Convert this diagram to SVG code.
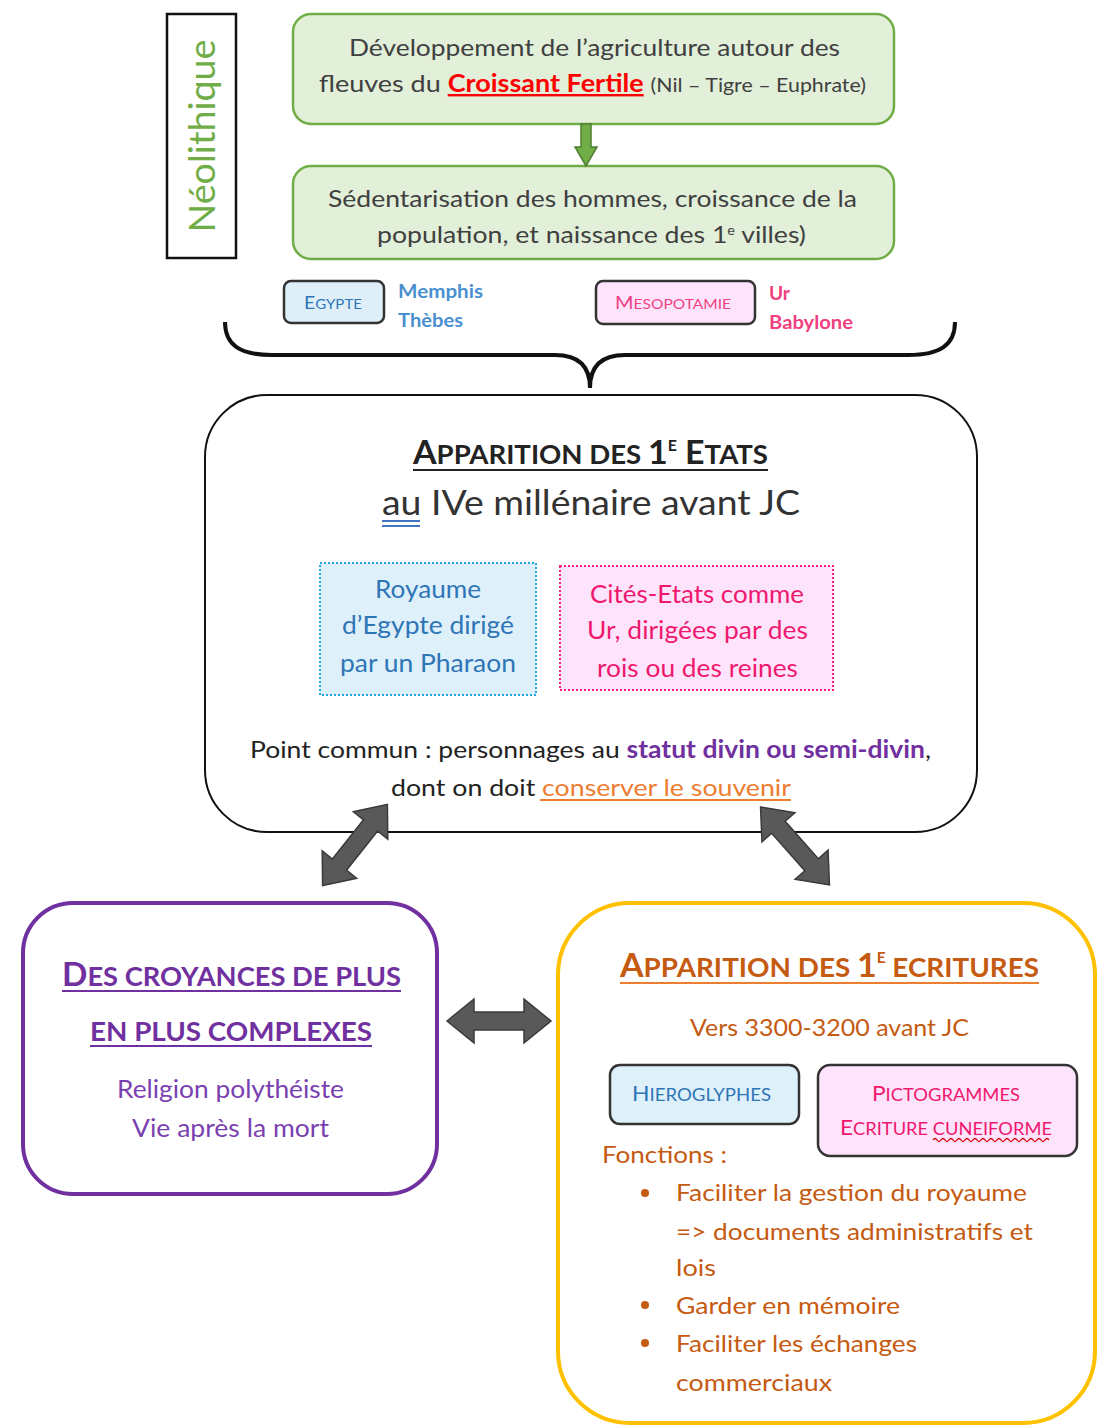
<svg xmlns="http://www.w3.org/2000/svg" width="1097" height="1425" viewBox="0 0 1097 1425">
<style>
text{font-family:Lato,"Open Sans","Liberation Sans",sans-serif;}
.c{text-anchor:middle;}
.g{fill:#404040;font-size:24px;}
.greenbox{fill:#E2EFD9;stroke:#70AD47;stroke-width:2.5;}
.tag{stroke:#333;stroke-width:2.5;}
.arr{fill:#595959;stroke:#3a3a3a;stroke-width:1.5;}
</style>
<defs>
<polygon id="dbl" points="-52,0 -25,-22 -25,-9 25,-9 25,-22 52,0 25,22 25,9 -25,9 -25,22"/>
</defs>

<g id="neolithique">
<rect x="167" y="14" width="69" height="244" fill="#fff" stroke="#111" stroke-width="2.5"/>
<text transform="translate(201,136) rotate(-90)" class="c" dominant-baseline="central" font-size="36" fill="#70AD47" textLength="193" lengthAdjust="spacingAndGlyphs">Néolithique</text>
</g>

<g id="agriculture">
<rect class="greenbox" x="293" y="14" width="601" height="110" rx="18"/>
<text class="g" x="349" y="56" textLength="491" lengthAdjust="spacingAndGlyphs">Développement de l’agriculture autour des</text>
<text class="g" x="319" y="92" textLength="547" lengthAdjust="spacingAndGlyphs">fleuves du <tspan fill="#FF0000" font-weight="bold" text-decoration="underline">Croissant Fertile</tspan> <tspan font-size="19">(Nil – Tigre – Euphrate)</tspan></text>
</g>

<g id="sedentarisation">
<rect class="greenbox" x="293" y="166" width="601" height="93" rx="18"/>
<text class="g" x="328" y="207" textLength="529" lengthAdjust="spacingAndGlyphs">Sédentarisation des hommes, croissance de la</text>
<text class="g" x="377" y="243" textLength="429" lengthAdjust="spacingAndGlyphs">population, et naissance des 1<tspan font-size="13" baseline-shift="super">e</tspan> villes)</text>
</g>

<g id="egypte">
<rect class="tag" x="284" y="281" width="100" height="42" rx="7" fill="#DEEFF9"/>
<text x="304" y="309" fill="#2E75B6" textLength="58" lengthAdjust="spacingAndGlyphs"><tspan font-size="18">E</tspan><tspan font-size="14">GYPTE</tspan></text>
<text x="398" y="298" font-size="19" font-weight="bold" fill="#4A90D0" textLength="85" lengthAdjust="spacingAndGlyphs">Memphis</text>
<text x="398" y="327" font-size="19" font-weight="bold" fill="#4A90D0" textLength="65" lengthAdjust="spacingAndGlyphs">Thèbes</text>
</g>

<g id="mesopotamie">
<rect class="tag" x="596" y="281" width="159" height="43" rx="7" fill="#FDE4FC"/>
<text x="615" y="309" fill="#F0407F" textLength="116" lengthAdjust="spacingAndGlyphs"><tspan font-size="18">M</tspan><tspan font-size="14">ESOPOTAMIE</tspan></text>
<text x="769" y="300" font-size="19" font-weight="bold" fill="#F0407F" textLength="21" lengthAdjust="spacingAndGlyphs">Ur</text>
<text x="769" y="329" font-size="19" font-weight="bold" fill="#F0407F" textLength="84" lengthAdjust="spacingAndGlyphs">Babylone</text>
</g>

<g id="etats">
<rect x="205" y="395" width="772" height="437" rx="62" fill="#fff" stroke="#111" stroke-width="2"/>
<text x="413" y="464" font-weight="bold" fill="#222" textLength="355" lengthAdjust="spacingAndGlyphs"><tspan font-size="32">A</tspan><tspan font-size="26">PPARITION DES </tspan><tspan font-size="32">1</tspan><tspan font-size="15" dy="-13">E</tspan><tspan font-size="32" dy="13"> E</tspan><tspan font-size="26">TATS</tspan></text>
<line x1="413" y1="470" x2="768" y2="470" stroke="#222" stroke-width="2"/>
<text x="382" y="515" font-size="34" fill="#333" textLength="418" lengthAdjust="spacingAndGlyphs">au IVe millénaire avant JC</text>
<line x1="382" y1="521" x2="420" y2="521" stroke="#4472C4" stroke-width="2"/>
<line x1="382" y1="526" x2="420" y2="526" stroke="#4472C4" stroke-width="2"/>
<rect x="320" y="563" width="216" height="132" fill="#DEF0FA" stroke="#1FA8E8" stroke-width="2" stroke-dasharray="2,2"/>
<text x="375" y="598" font-size="25" fill="#2E75B6" textLength="106" lengthAdjust="spacingAndGlyphs">Royaume</text>
<text x="342" y="634" font-size="25" fill="#2E75B6" textLength="172" lengthAdjust="spacingAndGlyphs">d’Egypte dirigé</text>
<text x="340" y="672" font-size="25" fill="#2E75B6" textLength="176" lengthAdjust="spacingAndGlyphs">par un Pharaon</text>
<rect x="560" y="566" width="273" height="124" fill="#FDE4FC" stroke="#FF2080" stroke-width="2" stroke-dasharray="2,2"/>
<text x="590" y="603" font-size="25" fill="#F0186E" textLength="214" lengthAdjust="spacingAndGlyphs">Cités-Etats comme</text>
<text x="587" y="639" font-size="25" fill="#F0186E" textLength="221" lengthAdjust="spacingAndGlyphs">Ur, dirigées par des</text>
<text x="597" y="677" font-size="25" fill="#F0186E" textLength="201" lengthAdjust="spacingAndGlyphs">rois ou des reines</text>
<text x="250" y="758" font-size="24" fill="#222" textLength="681" lengthAdjust="spacingAndGlyphs">Point commun : personnages au <tspan fill="#7030A0" font-weight="bold">statut divin ou semi-divin</tspan>,</text>
<text x="391" y="796" font-size="24" fill="#222" textLength="400" lengthAdjust="spacingAndGlyphs">dont on doit <tspan fill="#ED7D31">conserver le souvenir</tspan></text>
<line x1="540" y1="800" x2="791" y2="800" stroke="#ED7D31" stroke-width="2"/>
</g>

<g id="brace">
<path d="M225,322 C225,345 240,355 272,355 L555,355 C580,355 590,368 590,388 C590,368 600,355 625,355 L908,355 C940,355 955,345 955,322" fill="none" stroke="#111" stroke-width="4"/>
</g>

<g id="croyances">
<rect x="23" y="903" width="414" height="291" rx="50" fill="#fff" stroke="#7030A0" stroke-width="4"/>
<text x="62" y="986" font-weight="bold" fill="#7030A0" textLength="339" lengthAdjust="spacingAndGlyphs"><tspan font-size="33">D</tspan><tspan font-size="27">ES CROYANCES DE PLUS</tspan></text>
<line x1="62" y1="991" x2="401" y2="991" stroke="#7030A0" stroke-width="2"/>
<text x="90" y="1041" font-weight="bold" fill="#7030A0" font-size="27" textLength="282" lengthAdjust="spacingAndGlyphs">EN PLUS COMPLEXES</text>
<line x1="90" y1="1046" x2="372" y2="1046" stroke="#7030A0" stroke-width="2"/>
<text x="117" y="1098" font-size="25" fill="#7A3FB0" textLength="227" lengthAdjust="spacingAndGlyphs">Religion polythéiste</text>
<text x="132" y="1137" font-size="25" fill="#7A3FB0" textLength="197" lengthAdjust="spacingAndGlyphs">Vie après la mort</text>
</g>

<g id="ecritures">
<rect x="558" y="903" width="537" height="520" rx="72" fill="#fff" stroke="#FFC000" stroke-width="4"/>
<text x="620" y="977" font-weight="bold" fill="#C55A11" textLength="419" lengthAdjust="spacingAndGlyphs"><tspan font-size="33">A</tspan><tspan font-size="27">PPARITION DES </tspan><tspan font-size="33">1</tspan><tspan font-size="15" dy="-14">E</tspan><tspan font-size="27" dy="14"> ECRITURES</tspan></text>
<line x1="620" y1="983" x2="1039" y2="983" stroke="#ED7D31" stroke-width="2"/>
<text x="690" y="1036" font-size="24" fill="#C55A11" textLength="279" lengthAdjust="spacingAndGlyphs">Vers 3300-3200 avant JC</text>
<rect class="tag" x="610" y="1065" width="189" height="59" rx="10" fill="#DEF0FA"/>
<text x="632" y="1101" fill="#2E75B6" textLength="139" lengthAdjust="spacingAndGlyphs"><tspan font-size="21">H</tspan><tspan font-size="17">IEROGLYPHES</tspan></text>
<rect class="tag" x="818" y="1065" width="259" height="91" rx="12" fill="#FDE4FC"/>
<text x="872" y="1101" fill="#F0186E" textLength="148" lengthAdjust="spacingAndGlyphs"><tspan font-size="21">P</tspan><tspan font-size="17">ICTOGRAMMES</tspan></text>
<text x="840" y="1135" fill="#F0186E" textLength="212" lengthAdjust="spacingAndGlyphs"><tspan font-size="21">E</tspan><tspan font-size="17">CRITURE CUNEIFORME</tspan></text>
<path d="M933,1140 q2,-3 4,0 t4,0 t4,0 t4,0 t4,0 t4,0 t4,0 t4,0 t4,0 t4,0 t4,0 t4,0 t4,0 t4,0 t4,0 t4,0 t4,0 t4,0 t4,0 t4,0 t4,0 t4,0 t4,0 t4,0 t4,0 t4,0 t4,0 t4,0 t4,0" fill="none" stroke="#E00000" stroke-width="1.3"/>
<text x="602" y="1163" font-size="24" fill="#C55A11" textLength="125" lengthAdjust="spacingAndGlyphs">Fonctions :</text>
<g fill="#C55A11">
<circle cx="645" cy="1193" r="4"/>
<circle cx="645" cy="1305" r="4"/>
<circle cx="645" cy="1343" r="4"/>
</g>
<g font-size="24" fill="#C55A11">
<text x="676" y="1201" textLength="351" lengthAdjust="spacingAndGlyphs">Faciliter la gestion du royaume</text>
<text x="676" y="1240" textLength="357" lengthAdjust="spacingAndGlyphs">=&gt; documents administratifs et</text>
<text x="676" y="1276" textLength="40" lengthAdjust="spacingAndGlyphs">lois</text>
<text x="676" y="1314" textLength="224" lengthAdjust="spacingAndGlyphs">Garder en mémoire</text>
<text x="676" y="1352" textLength="241" lengthAdjust="spacingAndGlyphs">Faciliter les échanges</text>
<text x="676" y="1391" textLength="156" lengthAdjust="spacingAndGlyphs">commerciaux</text>
</g>
</g>

<g id="connectors">
<g transform="translate(586,145)">
<polygon points="-5,-21 5,-21 5,2 11,2 0,21 -11,2 -5,2" fill="#70AD47" stroke="#4E7F30" stroke-width="1.5"/>
</g>
<use href="#dbl" class="arr" transform="translate(355,845) rotate(-51.5)"/>
<use href="#dbl" class="arr" transform="translate(795,846) rotate(48.5)"/>
<use href="#dbl" class="arr" transform="translate(499,1021)"/>
</g>
</svg>
